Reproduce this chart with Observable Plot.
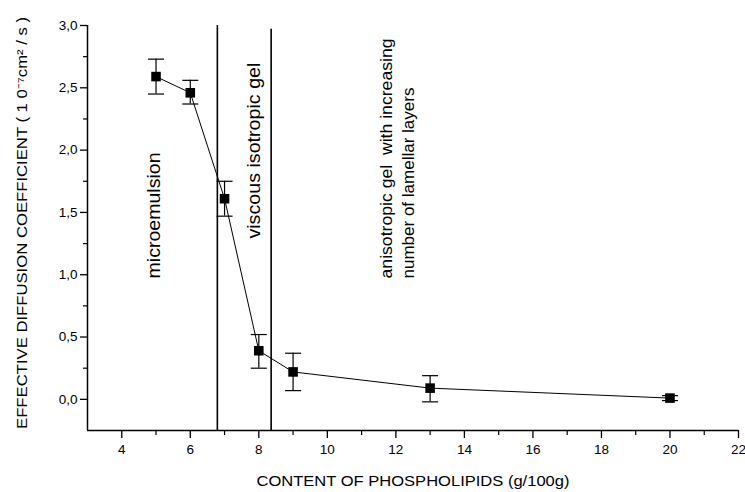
<!DOCTYPE html>
<html><head><meta charset="utf-8">
<script src="https://cdn.jsdelivr.net/npm/d3@7"></script>
<script src="https://cdn.jsdelivr.net/npm/@observablehq/plot@0.6"></script>
<style>body{margin:0;background:#fff} #chart svg{display:block}</style>
</head><body><div id="chart"></div>
<script>
// Data
const content = [5, 6, 7, 8, 9, 13, 20];
const coefficient = [2.59, 2.46, 1.61, 0.39, 0.22, 0.09, 0.01];
const errLow = [2.45, 2.37, 1.47, 0.25, 0.07, -0.02, -0.01];
const errHigh = [2.73, 2.56, 1.75, 0.52, 0.37, 0.19, 0.03];
const phaseBoundaries = [6.79, 8.36];
const boundaryTop = [3.0, 2.97];
const yTicks = [0, 0.5, 1, 1.5, 2, 2.5, 3];
const yMinorTicks = [0.25, 0.75, 1.25, 1.75, 2.25, 2.75];
const xTicks = [4, 6, 8, 10, 12, 14, 16, 18, 20, 22];
const xMinorTicks = [5, 7, 9, 11, 13, 15, 17, 19, 21];
const regionLabels = ["microemulsion", "viscous isotropic gel", "anisotropic gel  with increasing", "number of lamellar layers"];
const regionX = [4.95, 7.85, 11.72, 12.36];
const regionY = [0.97, 1.29, 0.97, 0.97];
const xLabel = "CONTENT OF PHOSPHOLIPIDS (g/100g)";
const yLabel = "EFFECTIVE DIFFUSION COEFFICIENT ( 1 0\u207B\u2077cm\u00B2 / s )";

const points = content.map((x, i) => ({x, y: coefficient[i], lo: errLow[i], hi: errHigh[i]}));
const bounds = phaseBoundaries.map((x, i) => ({x, top: boundaryTop[i]}));
const regions = regionLabels.map((t, i) => ({t, x: regionX[i], y: regionY[i], i}));

const capSymbol = {draw(ctx) { ctx.moveTo(-8, 0); ctx.lineTo(8, 0); }};
const fmt = d => d.toFixed(1).replace(".", ",");

const chart = Plot.plot({
  width: 745, height: 492,
  marginLeft: 87, marginRight: 7, marginTop: 25, marginBottom: 62,
  style: {fontFamily: "'Liberation Sans', Arial, sans-serif", fontSize: "13px", color: "black", background: "white"},
  x: {domain: [3, 22]},
  y: {domain: [-0.25, 3]},
  marks: [
    Plot.axisY(yTicks, {tickSize: 7, tickPadding: 3, tickFormat: fmt, fontSize: 13.5, label: null, strokeWidth: 1.3}),
    Plot.axisY(yMinorTicks, {tickSize: 4, tickFormat: () => "", label: null, strokeWidth: 1.2}),
    Plot.axisX(xTicks, {tickSize: 8, tickPadding: 6, fontSize: 13.5, label: null, strokeWidth: 1.3}),
    Plot.axisX(xMinorTicks, {tickSize: 5, tickFormat: () => "", label: null, strokeWidth: 1.2}),
    Plot.ruleX([3], {y1: -0.25, y2: 3, stroke: "black", strokeWidth: 1.5}),
    Plot.ruleY([-0.25], {x1: 3, x2: 22, stroke: "black", strokeWidth: 1.5}),
    Plot.ruleX(bounds, {x: "x", y1: -0.25, y2: "top", stroke: "black", strokeWidth: 1.6}),
    Plot.line(points, {x: "x", y: "y", stroke: "black", strokeWidth: 1}),
    Plot.ruleX(points, {x: "x", y1: "lo", y2: "hi", stroke: "black", strokeWidth: 1.2}),
    Plot.dot(points, {x: "x", y: "lo", symbol: capSymbol, stroke: "black", fill: "none", strokeWidth: 1.2}),
    Plot.dot(points, {x: "x", y: "hi", symbol: capSymbol, stroke: "black", fill: "none", strokeWidth: 1.2}),
    Plot.dot(points, {x: "x", y: "y", symbol: "square", r: 5.4, fill: "black", stroke: "none"}),
    Plot.text(regions, {filter: d => d.i < 2, x: "x", y: "y", text: "t", rotate: -90, textAnchor: "start", lineAnchor: "middle", fontSize: 18.5, fill: "black"}),
    Plot.text(regions, {filter: d => d.i >= 2, x: "x", y: "y", text: "t", rotate: -90, textAnchor: "start", lineAnchor: "middle", fontSize: 17, fill: "black"}),
    Plot.text([xLabel], {text: d => d, frameAnchor: "bottom", dy: 55, fontSize: 14, fill: "black"}),
    Plot.text([yLabel], {text: d => d, frameAnchor: "left", dx: -65, dy: -5, rotate: -90, textAnchor: "middle", lineAnchor: "middle", fontSize: 14, fill: "black"})
  ]
});
document.getElementById("chart").appendChild(chart);

// stretch texts to the lengths they occupy in the reference
const lengths = new Map([
  [regionLabels[0], 126], [regionLabels[1], 176], [regionLabels[2], 240],
  [xLabel, 313], [yLabel, 412]
]);
d3.select(chart).selectAll("text").each(function() {
  const L = lengths.get(this.textContent);
  if (L) { this.setAttribute("textLength", L); this.setAttribute("lengthAdjust", "spacingAndGlyphs"); }
});
</script>
</body></html>
